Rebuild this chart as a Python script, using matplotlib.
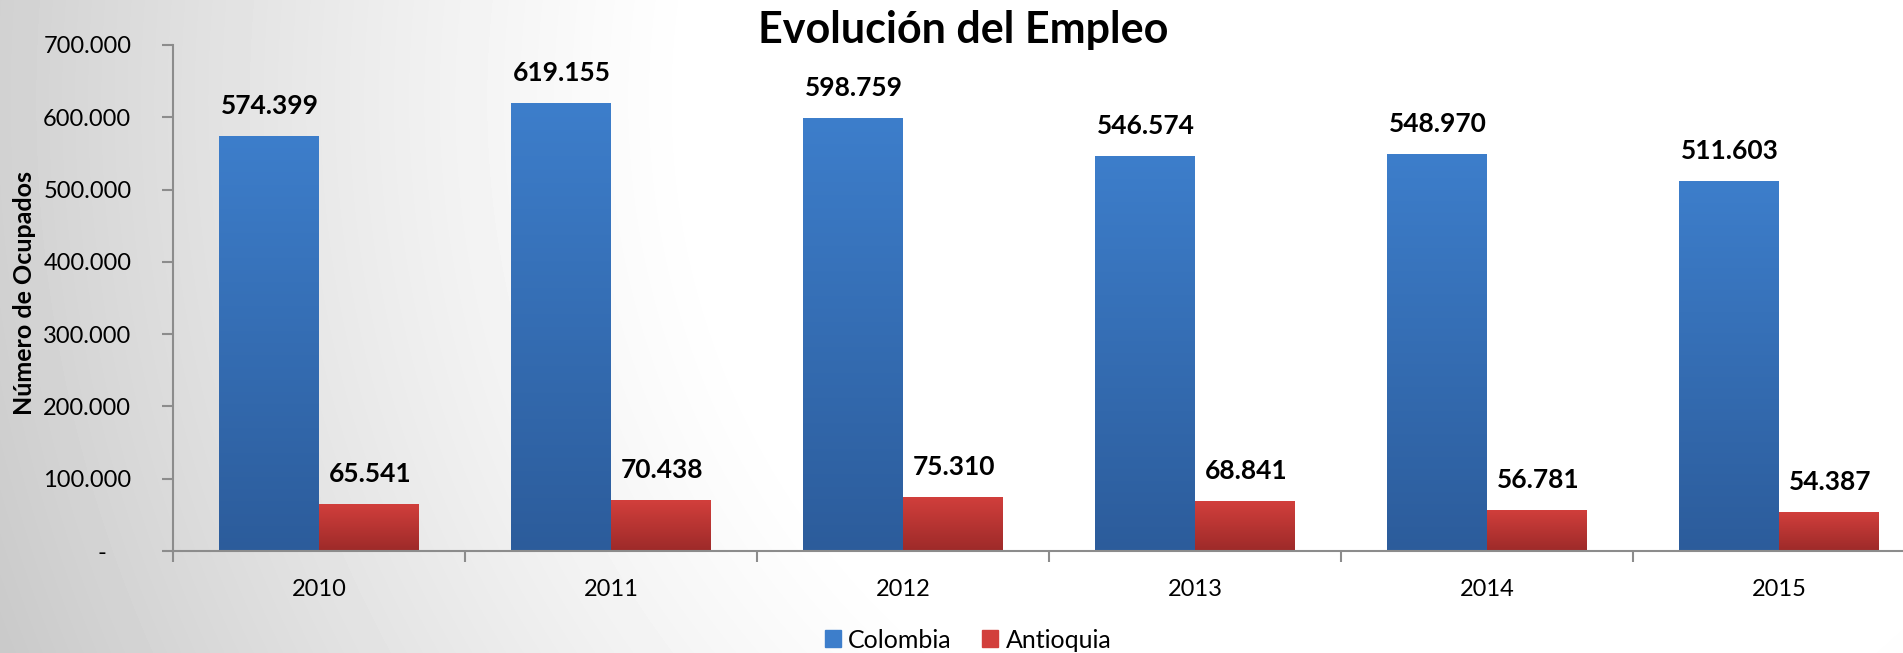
"""
plot.py - Evolución del Empleo (Colombia vs Antioquia), barras agrupadas.
"""

import numpy as np
import matplotlib
matplotlib.use("Agg")
import matplotlib.pyplot as plt
from matplotlib.colors import LinearSegmentedColormap
from matplotlib.patches import Patch
from matplotlib.ticker import FixedLocator, FuncFormatter

plt.rcParams["font.family"] = ["Lato", "DejaVu Sans"]

ANIOS = ["2010", "2011", "2012", "2013", "2014", "2015"]
COLOMBIA = [574399, 619155, 598759, 546574, 548970, 511603]
ANTIOQUIA = [65541, 70438, 75310, 68841, 56781, 54387]
SERIES = ["Colombia", "Antioquia"]
Y_TICKS = [0, 100000, 200000, 300000, 400000, 500000, 600000, 700000]

AZUL = ("#3d7ecb", "#2c5c9b")   # arriba, abajo
ROJO = ("#d23f3c", "#9d2a29")
GRIS_EJE = "#8c8c8c"


def miles(v, pos=None):
    """Formato con punto de miles; el cero se muestra como '-'."""
    if v == 0:
        return "-    "
    return f"{int(v):,}".replace(",", ".")


def fondo(fig):
    """Fondo gris degradado (oscuro a la izquierda, blanco a la derecha)."""
    W, H = 1903, 653
    yy, xx = np.mgrid[0:H, 0:W]
    d = np.hypot(xx - 1400, yy - 100)
    t = np.clip((d - 700) / 800, 0, 1) ** 1.2
    val = 1.0 - 0.21 * t
    bg = fig.add_axes([0, 0, 1, 1], zorder=-10)
    bg.imshow(val, cmap="gray", vmin=0, vmax=1, aspect="auto",
              interpolation="bilinear")
    bg.axis("off")


def barra_degradado(ax, rect, colores):
    """Rellena una barra con un degradado vertical recortado a su forma."""
    x0, y0 = rect.get_x(), rect.get_y()
    x1, y1 = x0 + rect.get_width(), y0 + rect.get_height()
    cmap = LinearSegmentedColormap.from_list("g", [colores[1], colores[0]])
    grad = np.linspace(0, 1, 256).reshape(-1, 1)
    im = ax.imshow(grad, cmap=cmap, extent=(x0, x1, y0, y1), origin="lower",
                   aspect="auto", zorder=2, interpolation="bilinear")
    im.set_clip_path(rect)


def main():
    fig = plt.figure(figsize=(19.03, 6.53), dpi=100)
    fondo(fig)

    ax = fig.add_axes([0.0909, 0.1562, 0.9207, 0.7749])
    ax.patch.set_alpha(0)

    x = np.arange(len(ANIOS))
    ancho = 0.342
    b1 = ax.bar(x - ancho / 2, COLOMBIA, ancho, color=AZUL[0], zorder=1)
    b2 = ax.bar(x + ancho / 2, ANTIOQUIA, ancho, color=ROJO[0], zorder=1)
    for r in b1:
        barra_degradado(ax, r, AZUL)
    for r in b2:
        barra_degradado(ax, r, ROJO)

    for barras in (b1, b2):
        for r in barras:
            ax.annotate(miles(r.get_height()),
                        (r.get_x() + r.get_width() / 2, r.get_height()),
                        xytext=(1, 18), textcoords="offset pixels",
                        ha="center", va="bottom", fontsize=19,
                        fontweight="bold", color="black")

    ax.set_xlim(-0.5, len(ANIOS) - 0.5)
    ax.set_ylim(0, 700000)
    ax.yaxis.set_major_locator(FixedLocator(Y_TICKS))
    ax.yaxis.set_major_formatter(FuncFormatter(miles))

    # ticks de categoría en los límites, etiquetas en el centro
    ax.xaxis.set_major_locator(FixedLocator(np.arange(len(ANIOS) + 1) - 0.5))
    ax.xaxis.set_major_formatter(FuncFormatter(lambda v, p: ""))
    ax.xaxis.set_minor_locator(FixedLocator(x))
    ax.set_xticklabels(ANIOS, minor=True)
    ax.tick_params(axis="x", which="minor", length=0, pad=20, labelsize=17)
    ax.tick_params(axis="x", which="major", length=8, width=1.5,
                   color=GRIS_EJE)
    ax.tick_params(axis="y", length=8, width=1.5, color=GRIS_EJE, pad=22,
                   labelsize=17)

    for s in ("top", "right"):
        ax.spines[s].set_visible(False)
    for s in ("left", "bottom"):
        ax.spines[s].set_color(GRIS_EJE)
        ax.spines[s].set_linewidth(1.5)

    fig.text(25 / 1903, 1 - 293 / 653, "Número de Ocupados", rotation=90,
             ha="center", va="center", fontsize=18, fontweight="bold")
    fig.text(963 / 1903, 1 - 30 / 653, "Evolución del Empleo",
             ha="center", va="center", fontsize=31, fontweight="bold")

    handles = [Patch(color=AZUL[0]), Patch(color=ROJO[0])]
    fig.legend(handles, SERIES, loc="center", ncol=2,
               bbox_to_anchor=(968 / 1903, 1 - 640 / 653), frameon=False,
               fontsize=18, handlelength=0.65, handleheight=0.65,
               handletextpad=0.3, columnspacing=1.2, borderpad=0)

    fig.savefig("out.png", dpi=100)
    plt.close(fig)


if __name__ == "__main__":
    main()
